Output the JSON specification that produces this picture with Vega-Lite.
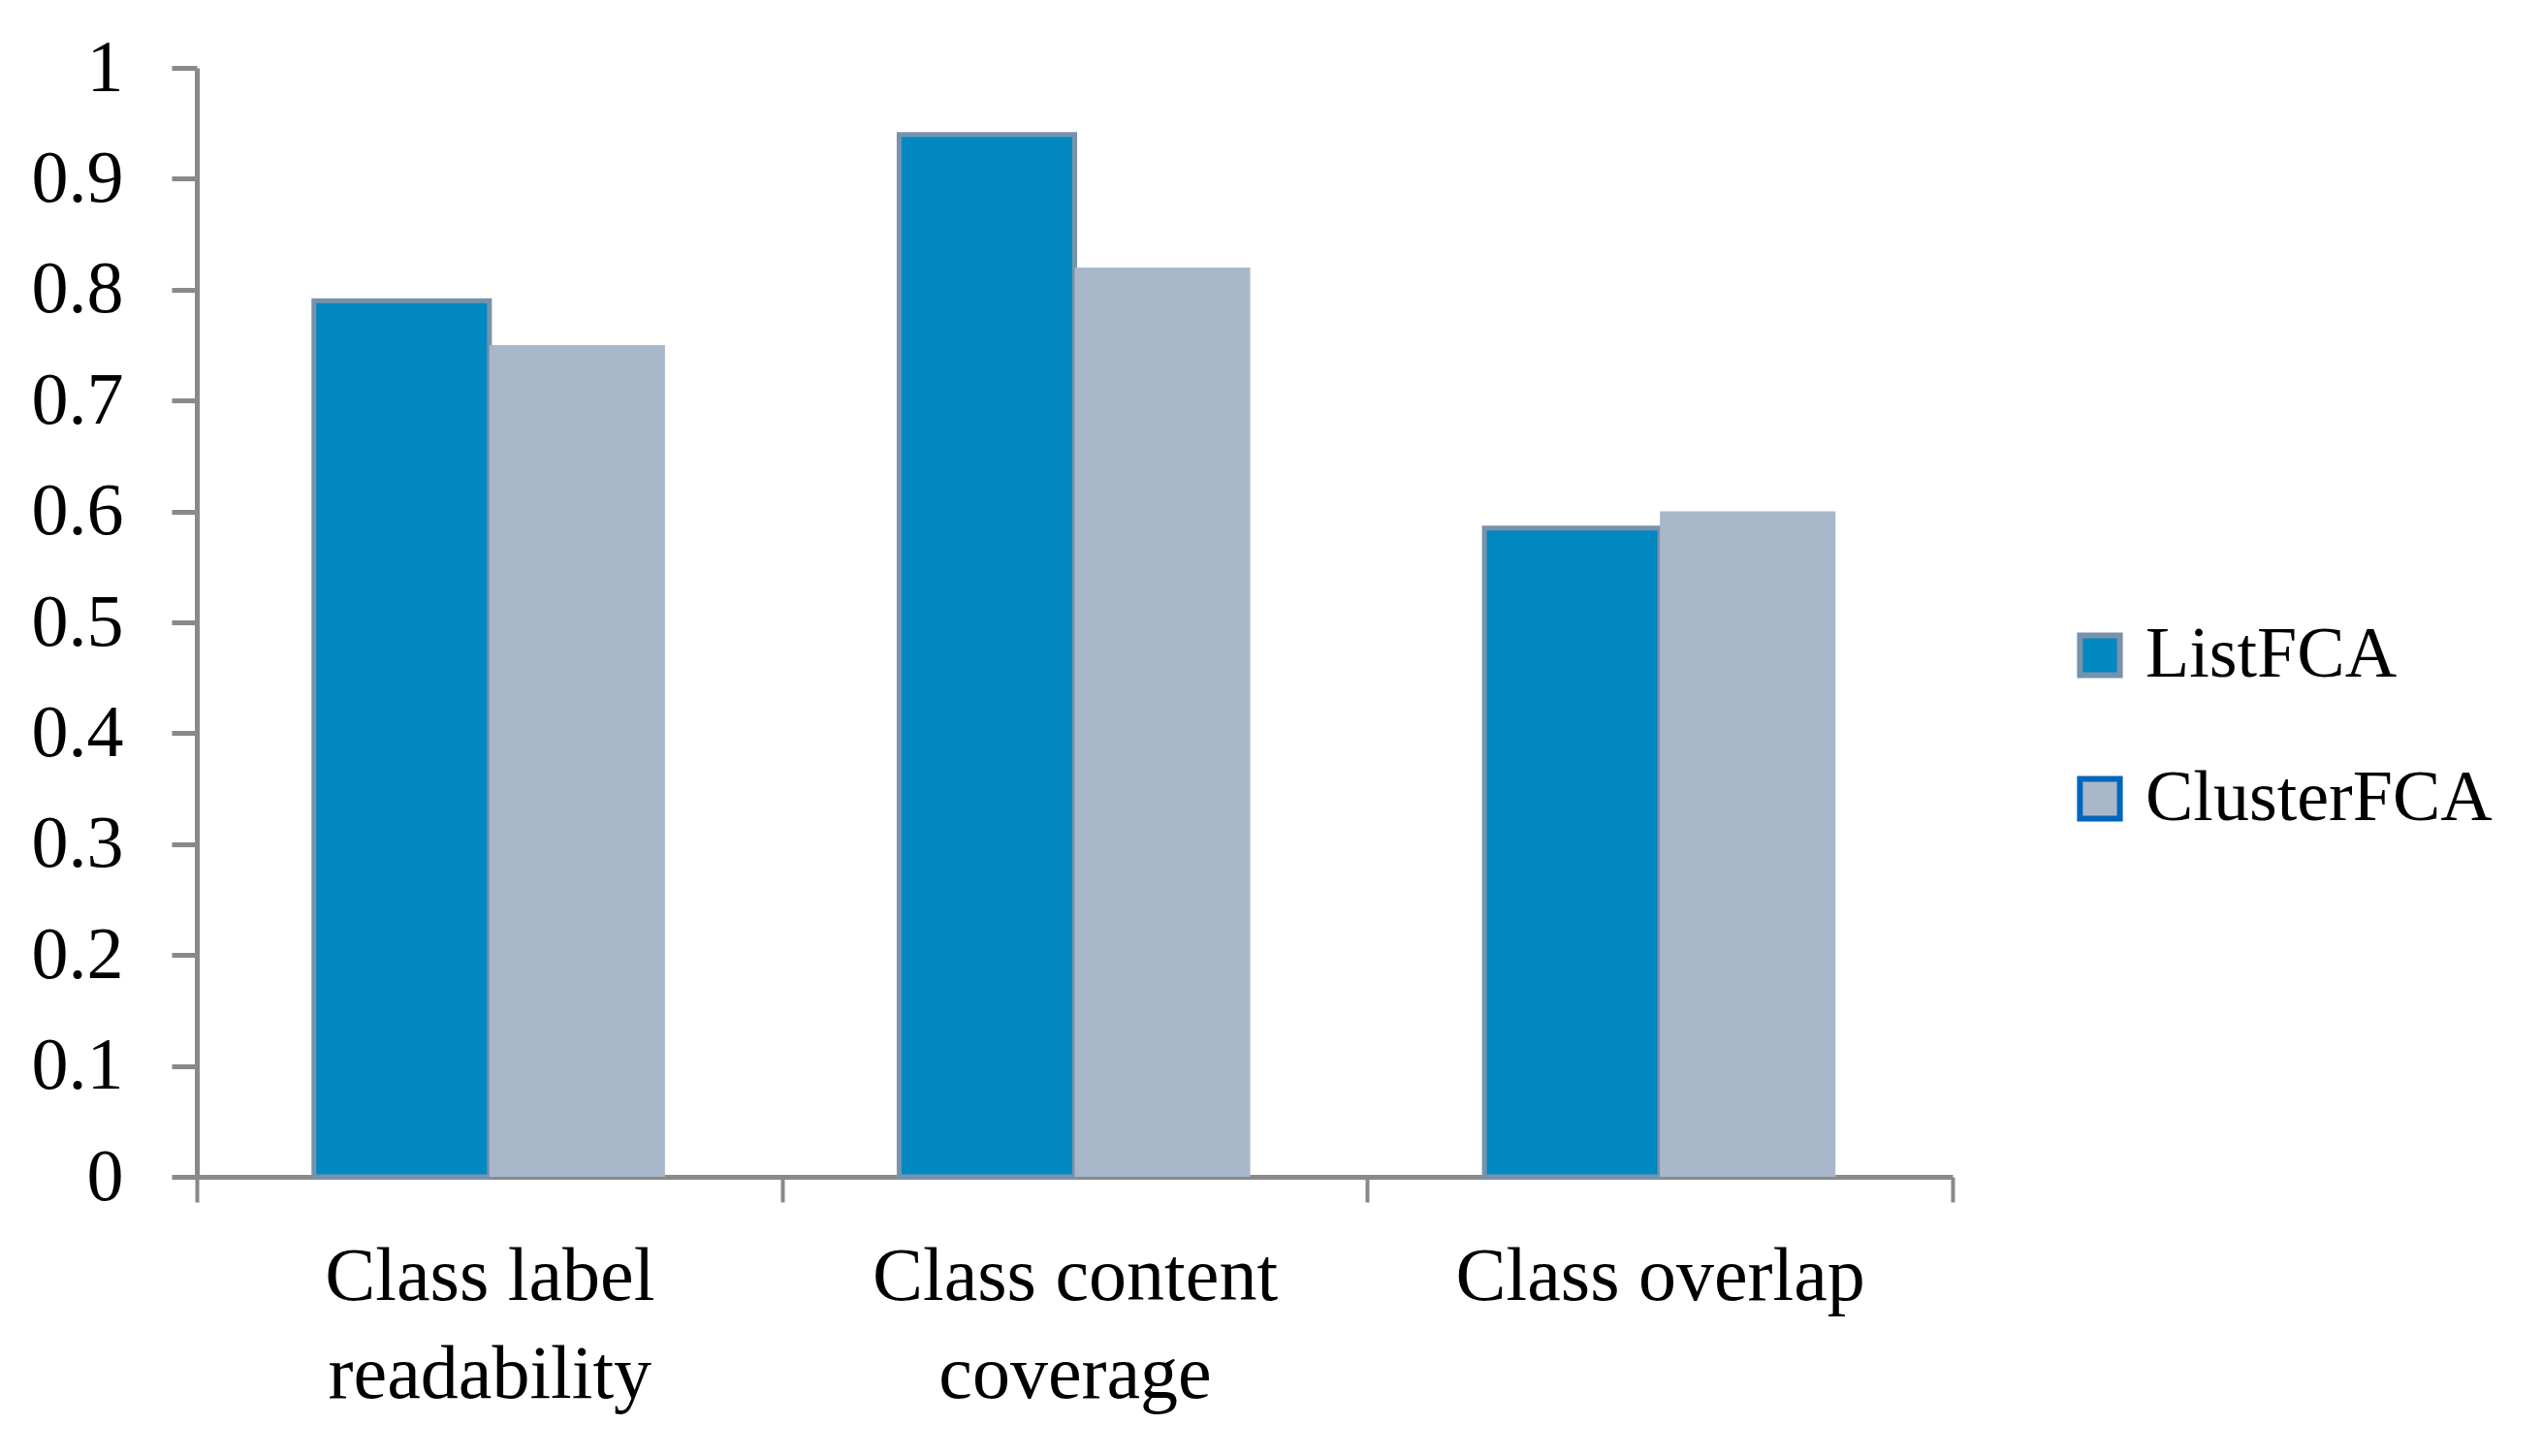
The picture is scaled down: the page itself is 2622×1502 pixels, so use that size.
{
  "$schema": "https://vega.github.io/schema/vega-lite/v6.json",
  "description": "ListFCA vs ClusterFCA evaluation",
  "autosize": "none",
  "width": 1811,
  "height": 1144,
  "padding": {"left": 203, "top": 70, "right": 608, "bottom": 288},
  "background": "white",
  "data": {
    "values": [
      {"criterion": "Class label readability", "method": "ListFCA", "score": 0.79},
      {"criterion": "Class label readability", "method": "ClusterFCA", "score": 0.75},
      {"criterion": "Class content coverage", "method": "ListFCA", "score": 0.94},
      {"criterion": "Class content coverage", "method": "ClusterFCA", "score": 0.82},
      {"criterion": "Class overlap", "method": "ListFCA", "score": 0.585},
      {"criterion": "Class overlap", "method": "ClusterFCA", "score": 0.6}
    ]
  },
  "mark": {"type": "bar", "strokeJoin": "miter", "strokeWidth": 5},
  "encoding": {
    "x": {
      "field": "criterion",
      "type": "nominal",
      "sort": null,
      "title": null,
      "scale": {"paddingInner": 0, "paddingOuter": 0},
      "axis": {
        "labelAngle": 0,
        "labelFont": "Liberation Serif",
        "labelFontSize": 78,
        "labelColor": "black",
        "labelLimit": 0,
        "labelPadding": 38,
        "labelLineHeight": 101,
        "labelBaseline": "top",
        "labelExpr": "datum.label == 'Class label readability' ? ['Class label', 'readability'] : datum.label == 'Class content coverage' ? ['Class content', 'coverage'] : datum.label",
        "tickBand": "extent",
        "tickSize": 26,
        "tickWidth": 4,
        "tickColor": "#898989",
        "domainColor": "#898989",
        "domainWidth": 5,
        "grid": false
      }
    },
    "xOffset": {
      "field": "method",
      "sort": ["ListFCA", "ClusterFCA"],
      "scale": {"paddingInner": 0, "paddingOuter": 0.667}
    },
    "y": {
      "field": "score",
      "type": "quantitative",
      "title": null,
      "scale": {"domain": [0, 1], "nice": false},
      "axis": {
        "values": [0, 0.1, 0.2, 0.3, 0.4, 0.5, 0.6, 0.7, 0.8, 0.9, 1],
        "format": "~g",
        "labelFont": "Liberation Serif",
        "labelFontSize": 76,
        "labelColor": "black",
        "labelLimit": 0,
        "labelPadding": 50,
        "tickSize": 26,
        "tickWidth": 5,
        "tickColor": "#898989",
        "domainColor": "#898989",
        "domainWidth": 5,
        "grid": false
      }
    },
    "color": {
      "field": "method",
      "type": "nominal",
      "sort": ["ListFCA", "ClusterFCA"],
      "scale": {"domain": ["ListFCA", "ClusterFCA"], "range": ["#0288C0", "#A8B8CA"]},
      "legend": {
        "title": null,
        "orient": "none",
        "legendX": 1926,
        "legendY": 569,
        "symbolType": "square",
        "symbolSize": 1700,
        "symbolStrokeWidth": 6,
        "symbolOpacity": 1,
        "labelFont": "Liberation Serif",
        "labelFontSize": 74,
        "labelColor": "black",
        "labelLimit": 0,
        "labelOffset": 10,
        "rowPadding": 74,
        "padding": 0
      }
    },
    "stroke": {
      "field": "method",
      "type": "nominal",
      "sort": ["ListFCA", "ClusterFCA"],
      "scale": {"domain": ["ListFCA", "ClusterFCA"], "range": ["#7793AC", "#0066BB"]}
    },
    "strokeOpacity": {
      "condition": {"test": "datum.method === 'ListFCA'", "value": 1},
      "value": 0
    }
  },
  "config": {
    "view": {"stroke": null},
    "font": "Liberation Serif"
  }
}
